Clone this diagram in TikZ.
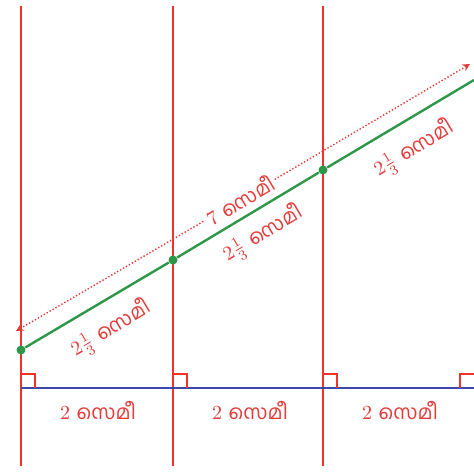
\documentclass[tikz,border=0pt]{standalone}
\usepackage{fontspec}
\newfontfamily\mlfont[Script=Malayalam]{Hind Kochi}

\definecolor{lineRed}{RGB}{240,50,42}
\definecolor{textRed}{RGB}{226,60,58}
\definecolor{lineGreen}{RGB}{46,150,72}
\definecolor{lineBlue}{RGB}{62,72,178}

\newcommand{\cmword}{{\mlfont സെമീ}}

\tikzstyle{vline} = [draw=lineRed, line width=1pt]
\tikzstyle{baseaxis} = [draw=lineBlue, line width=1pt]
\tikzstyle{slant} = [draw=lineGreen, line width=1.2pt]
\tikzstyle{measure} = [draw=textRed, densely dotted, line width=0.7pt, >=stealth]
\tikzstyle{rightangle} = [draw=lineRed, line width=0.8pt]
\tikzstyle{dot} = [circle, fill=lineGreen, inner sep=0pt, minimum size=4.5pt]
\tikzstyle{cmtext} = [text=textRed, font=\normalsize, inner sep=1pt]

\begin{document}
\begin{tikzpicture}[x=0.5pt, y=-0.5pt]
			\useasboundingbox (0,0) rectangle (474,471);
			
			% vertical lines
			\coordinate (top1) at (21,6);   \coordinate (bot1) at (21,466);
			\coordinate (top2) at (173,6);  \coordinate (bot2) at (173,466);
			\coordinate (top3) at (323,6);  \coordinate (bot3) at (323,466);
			\draw [vline] (top1) -- (bot1);
			\draw [vline] (top2) -- (bot2);
			\draw [vline] (top3) -- (bot3);
			
			% base line
			\coordinate (base1) at (21,388);
			\coordinate (base2) at (173,388);
			\coordinate (base3) at (323,388);
			\coordinate (baseEnd) at (474,388);
			\draw [baseaxis] (base1) -- (baseEnd);
			
			% right angles
			\draw [rightangle] (base1) ++(0,-14) -| ++(14,14);
			\draw [rightangle] (base2) ++(0,-14) -| ++(14,14);
			\draw [rightangle] (base3) ++(0,-14) -| ++(14,14);
			\draw [rightangle] (baseEnd) ++(-14,0) |- ++(14,-14);
			
			% slanted line
			\node (pt1) [dot] at (21,350) {};
			\node (pt2) [dot] at (173,260) {};
			\node (pt3) [dot] at (323,170) {};
			\coordinate (ptEnd) at (474,80);
			\draw [slant] (pt1) -- (pt2) -- (pt3) -- (ptEnd);
			
			% total length
			\coordinate (arrowStart) at (16,331);
			\coordinate (arrowEnd) at (470,64);
			\node (total) [cmtext, rotate=30.6] at (240,200) {7 \cmword};
			\draw [measure, <-] (arrowStart) -- (total);
			\draw [measure, ->] (total) -- (arrowEnd);
			
			% labels
			\node (part1) [cmtext, rotate=30.6] at (111,329) {$2\frac{1}{3}$ \cmword};
			\node (part2) [cmtext, rotate=30.6] at (263,234) {$2\frac{1}{3}$ \cmword};
			\node (part3) [cmtext, rotate=30.6] at (414,149) {$2\frac{1}{3}$ \cmword};
			
			\node (gap1) [cmtext] at (98,410) {2 \cmword};
			\node (gap2) [cmtext] at (250,410) {2 \cmword};
			\node (gap3) [cmtext] at (400,410) {2 \cmword};
			
		\end{tikzpicture}
\end{document}
